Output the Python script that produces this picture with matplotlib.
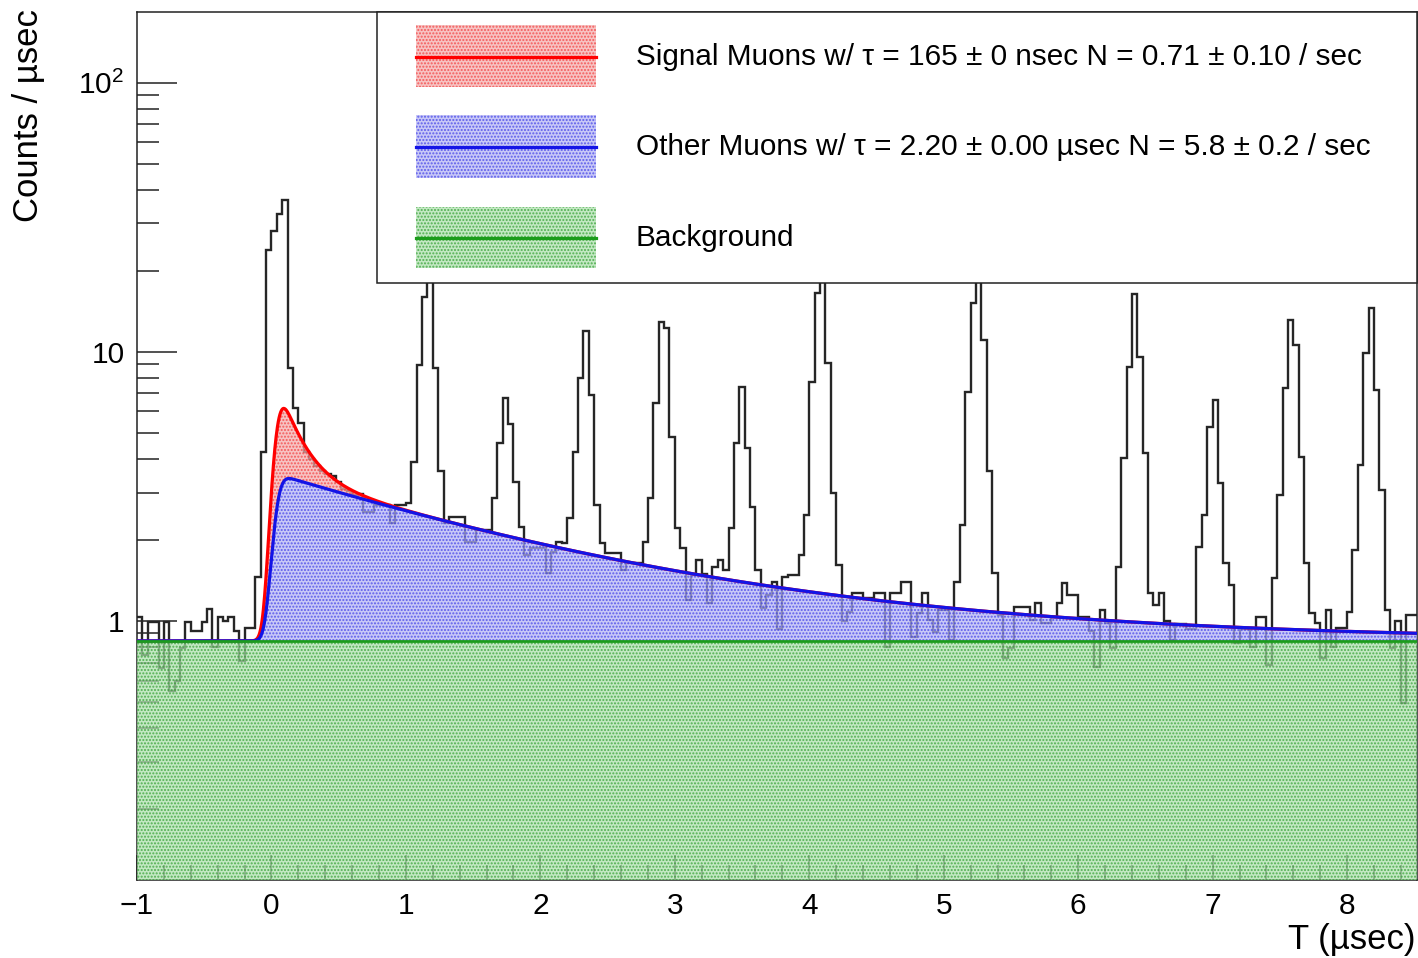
import math
import numpy as np
import matplotlib
matplotlib.use("Agg")
import matplotlib.pyplot as plt
from matplotlib.patches import Rectangle
from matplotlib.ticker import MultipleLocator, LogLocator, NullFormatter

plt.rcParams['font.family'] = ['Liberation Sans', 'DejaVu Sans']
plt.rcParams['mathtext.fontset'] = 'custom'
plt.rcParams['mathtext.rm'] = 'Liberation Sans'
plt.rcParams['hatch.linewidth'] = 1.0

# histogram: 0.04 usec bins starting at -1 usec
t_start = -1.0
bin_width = 0.04
counts = [
    1.03, 0.745, 0.99, 0.99, 0.67, 0.99, 0.55, 0.6, 0.79, 0.99,
    0.92, 0.92, 0.99, 1.11, 0.80, 1.03, 1.0, 1.03, 0.92, 0.71,
    0.94, 0.94, 1.45, 4.25, 23.8, 28.1, 32.5, 36.7, 8.67, 6.19,
    5.45, 4.25, 4.0, 3.77, 3.62, 3.5, 3.46, 3.28, 3.1, 3.03,
    2.94, 2.95, 2.55, 2.55, 2.7, 2.7, 2.7, 2.31, 2.7, 2.7,
    2.75, 3.9, 8.9, 16.0, 30.0, 8.7, 3.6, 2.31, 2.44, 2.44,
    2.44, 1.97, 1.97, 2.18, 2.18, 2.18, 2.87, 4.6, 6.74, 5.4,
    3.28, 2.24, 1.76, 1.87, 1.87, 1.87, 1.51, 1.81, 1.97, 1.95,
    2.41, 4.25, 8.0, 11.95, 6.9, 2.7, 1.95, 1.79, 1.79, 1.79,
    1.55, 1.64, 1.64, 1.64, 1.97, 2.87, 6.45, 12.9, 12.3, 4.83,
    2.22, 1.87, 1.2, 1.48, 1.68, 1.5, 1.17, 1.59, 1.68, 1.55,
    2.22, 4.6, 7.4, 4.4, 2.65, 1.55, 1.12, 1.25, 1.4, 0.93,
    1.46, 1.48, 1.48, 1.76, 2.48, 7.7, 16.6, 30.0, 9.1, 3.0,
    1.61, 1.0, 1.08, 1.27, 1.27, 1.22, 1.22, 1.27, 1.27, 0.80,
    1.27, 1.27, 1.40, 1.40, 0.87, 1.07, 1.27, 1.01, 0.91, 1.1,
    1.1, 0.85, 1.40, 2.27, 7.1, 15.2, 30.0, 11.1, 3.6, 1.51,
    1.05, 0.73, 0.79, 1.13, 1.13, 1.13, 1.01, 1.17, 0.98, 0.98,
    1.03, 1.17, 1.38, 1.25, 1.25, 1.03, 1.03, 0.92, 0.675, 1.1,
    0.98, 0.79, 1.59, 4.04, 8.8, 16.4, 9.6, 4.2, 1.27, 1.15,
    1.27, 1.0, 0.85, 0.97, 0.97, 0.93, 0.93, 1.88, 2.48, 5.27,
    6.64, 3.26, 1.64, 1.36, 0.83, 0.93, 0.93, 0.80, 1.03, 1.03,
    0.686, 1.44, 2.94, 7.35, 13.1, 10.6, 4.07, 1.64, 1.07, 0.98,
    0.73, 1.1, 0.80, 0.94, 0.94, 1.08, 1.84, 3.8, 9.9, 14.6,
    7.2, 3.07, 1.1, 0.79, 1.0, 0.495, 1.05, 1.05,
]

# fit results: lifetimes from the legend, amplitudes
tau_signal = 0.165
tau_other = 2.20
amp_signal = 4.7
amp_other = 2.69
background = 0.843
t_zero = 0.02
t_sigma = 0.045

legend_labels = [
    "Signal Muons w/ \u03c4 = 165 \u00b1 0 nsec N = 0.71 \u00b1 0.10 / sec",
    "Other Muons w/ \u03c4 = 2.20 \u00b1 0.00 \u00b5sec N = 5.8 \u00b1 0.2 / sec",
    "Background",
]

edges = t_start + bin_width * np.arange(len(counts) + 1)

erfc = np.vectorize(math.erfc)


# exponential decay smeared by a gaussian timing resolution
def smeared_decay(t, amp, tau):
    dt = t - t_zero
    z = dt / t_sigma - t_sigma / tau
    return amp * np.exp(t_sigma**2 / (2 * tau**2) - dt / tau) * 0.5 * erfc(-z / math.sqrt(2))


t = np.linspace(edges[0], edges[-1], 3000)
blue_curve = background + smeared_decay(t, amp_other, tau_other)
red_curve = blue_curve + smeared_decay(t, amp_signal, tau_signal)

red = '#ff0000'
blue = '#1414e6'
green = '#1c9c1c'
fills = {
    'red': dict(facecolor=(0.96, 0.68, 0.68, 0.72), edgecolor=(0.95, 0.2, 0.2, 0.7)),
    'blue': dict(facecolor=(0.70, 0.70, 0.96, 0.72), edgecolor=(0.2, 0.2, 0.9, 0.7)),
    'green': dict(facecolor=(0.68, 0.88, 0.68, 0.72), edgecolor=(0.15, 0.6, 0.15, 0.7)),
}
hatch = '.....'

fig = plt.figure(figsize=(14.18, 9.58), dpi=100)
ax = fig.add_axes([137 / 1418, 78 / 958, 1280 / 1418, 868 / 958])
ax.set_yscale('log')

ax.stairs(counts, edges, baseline=None, color='#262626', lw=1.7, zorder=2)

ylo = 1e-3
ax.fill_between(t, ylo, background, hatch=hatch, lw=0, zorder=3, **fills['green'])
ax.fill_between(t, background, blue_curve, hatch=hatch, lw=0, zorder=3, **fills['blue'])
ax.fill_between(t, blue_curve, red_curve, hatch=hatch, lw=0, zorder=3, **fills['red'])

ax.plot(t, red_curve, color=red, lw=2.3, zorder=4)
ax.plot(t, blue_curve, color=blue, lw=2.3, zorder=5)
ax.plot([t[0], t[-1]], [background, background], color=green, lw=2.0, zorder=5)

ax.set_xlim(edges[0], edges[-1])
ax.set_ylim(0.109, 183)

ax.set_xticks(np.arange(-1, 9, 1))
ax.xaxis.set_minor_locator(MultipleLocator(0.2))
ax.set_yticks([1, 10, 100], labels=['1', '10', r'$\mathregular{10^{2}}$'])
ax.yaxis.set_minor_locator(LogLocator(base=10, subs=np.arange(2, 10), numticks=20))
ax.yaxis.set_minor_formatter(NullFormatter())

ax.tick_params(axis='both', which='both', direction='in', width=1.1, top=False, right=False,
               labelsize=21.5, color='#222222')
ax.tick_params(axis='x', which='major', length=18, pad=9)
ax.tick_params(axis='x', which='minor', length=10.5)
ax.tick_params(axis='y', which='major', length=29, pad=9)
ax.tick_params(axis='y', which='minor', length=16)
for s in ax.spines.values():
    s.set_linewidth(1.1)
    s.set_color('#222222')

fig.text(29 / 1418, 1 - 9 / 958, 'Counts / \u00b5sec', rotation=90, ha='center', va='top', fontsize=25)
fig.text(1416 / 1418, 1 - 940 / 958, 'T (\u00b5sec)', ha='right', va='center', fontsize=25)

# legend box
ax.add_patch(Rectangle((0.1875, 0.6878), 0.8125, 0.3122, transform=ax.transAxes,
                       facecolor='white', edgecolor='#222222', lw=1.1, zorder=10, clip_on=False))
rows = [(0.9136, 0.9850, 0.9482, red, 'red'),
        (0.8088, 0.8813, 0.8445, blue, 'blue'),
        (0.7051, 0.7753, 0.7396, green, 'green')]
for (y0, y1, yl, col, key), label in zip(rows, legend_labels):
    ax.add_patch(Rectangle((0.218, y0), 0.1406, y1 - y0, transform=ax.transAxes,
                           hatch=hatch, lw=0, zorder=11, **fills[key]))
    ax.plot([0.218, 0.3586], [yl, yl], transform=ax.transAxes, color=col, lw=2.3, zorder=12)
    ax.text(0.3898, yl, label, transform=ax.transAxes, ha='left', va='center',
            fontsize=21.4, zorder=12)

fig.savefig('out.png', dpi=100)
